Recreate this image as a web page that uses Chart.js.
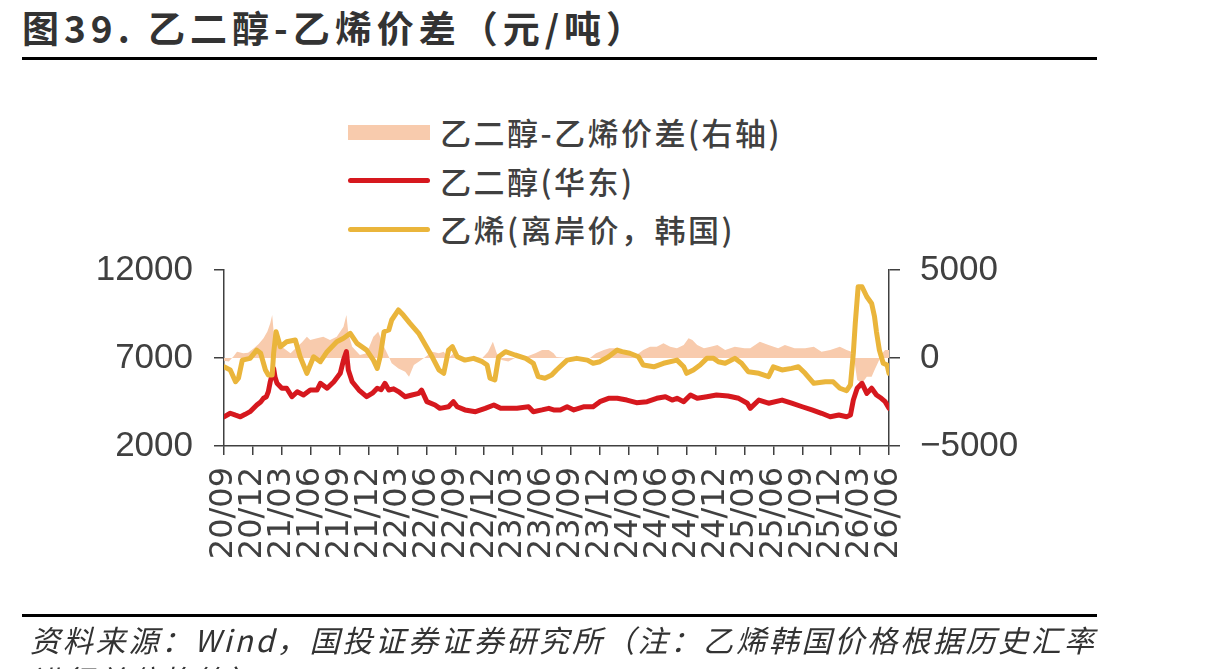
<!DOCTYPE html>
<html lang="zh-CN">
<head>
<meta charset="utf-8">
<title>图39. 乙二醇-乙烯价差（元/吨）</title>
<script src="https://cdn.jsdelivr.net/npm/chart.js@4.4.1/dist/chart.umd.min.js"></script>
<style>
  html, body { margin: 0; padding: 0; background: #fff; overflow: hidden; }
  body { width: 1213px; height: 669px; position: relative; font-family: "Noto Sans CJK SC", sans-serif; color: #404040; }
  #chart { position: absolute; left: 0; top: 0; }
  .title { position: absolute; left: 22px; top: 7px; font-size: 37px; line-height: 40px; font-weight: 700; color: #333; letter-spacing: 5px; white-space: nowrap; }
  .rule { position: absolute; left: 22px; width: 1075px; height: 3px; background: #000; }
  #legend { position: absolute; left: 348px; top: 108px; }
  .item { display: flex; align-items: center; height: 48.5px; }
  .swatch { width: 82px; margin-right: 10px; }
  .item span { font-size: 31px; line-height: 34px; letter-spacing: 2.5px; font-weight: 500; white-space: nowrap; }
  .note { position: absolute; left: 30px; top: 619px; font-size: 30px; line-height: 40px; font-style: italic; color: #333; letter-spacing: 2.8px; white-space: nowrap; }
</style>
</head>
<body>
<div class="title">图39. 乙二醇-乙烯价差（元/吨）</div>
<div class="rule" style="top:57px"></div>
<div id="legend"></div>
<canvas id="chart" width="1213" height="669"></canvas>
<div class="rule" style="top:614px"></div>
<div class="note">资料来源：Wind，国投证券证券研究所（注：乙烯韩国价格根据历史汇率<br>进行单位换算）</div>
<script>
// x positions are months counted from 2020/09
const TICK_LABELS = ["20/09", "20/12", "21/03", "21/06", "21/09", "21/12", "22/03", "22/06",
  "22/09", "22/12", "23/03", "23/06", "23/09", "23/12", "24/03", "24/06",
  "24/09", "24/12", "25/03", "25/06", "25/09", "25/12", "26/03", "26/06"]

const SERIES_NAMES = ["乙二醇-乙烯价差(右轴)", "乙二醇(华东)", "乙烯(离岸价，韩国)"]

const EG_MONTHS = [0, 0.65, 1.2, 1.7, 2.2, 2.7, 3.4, 3.8, 4.1, 4.4, 4.6, 4.8, 5.15, 5.3, 5.5, 6, 6.5, 7.05, 7.6, 8.25,
  8.95, 9.65, 10, 10.7, 11.4, 12.06, 12.4, 12.7, 12.9, 13.3, 14, 14.8, 15.4, 15.9, 16.3, 16.7, 17.1, 17.6, 18.1, 18.8,
  19.5, 20.2, 20.5, 21.05, 21.9, 22.4, 23.3, 23.8, 24.2, 25, 26.1, 27.1, 28, 28.7, 29.5, 30.4, 31.6, 32.1, 33, 33.7,
  34.2, 34.9, 35.6, 36.3, 37.3, 38.3, 39, 39.9, 40.8, 41.8, 42.8, 43.9, 44.9, 45.8, 46.5, 47, 47.7, 48.4, 49.1, 50.1,
  51.1, 52.3, 53.4, 54.3, 54.6, 55.5, 56.5, 57.9, 58.9, 60, 61, 62, 62.9, 63.8, 64.6, 65, 65.3, 65.7, 66.2, 66.7,
  67.2, 67.7, 68.2, 68.6, 69]
const EG_VALUES = [3660, 3860, 3750, 3660, 3800, 3950, 4330, 4500, 4710, 4800, 5090, 5650, 6410, 5900, 5560, 5280, 5280, 4800, 5080, 4900,
  5180, 5180, 5560, 5280, 5650, 6130, 6880, 7360, 6320, 5650, 5180, 4800, 5000, 5280, 5200, 5560, 5180, 5250, 5090, 4800,
  4900, 4990, 5180, 4520, 4330, 4140, 4230, 4520, 4230, 4050, 3950, 4140, 4330, 4140, 4140, 4140, 4230, 3950, 4050, 4140,
  4050, 4050, 4230, 4050, 4230, 4230, 4520, 4710, 4710, 4610, 4460, 4520, 4710, 4800, 4610, 4710, 4520, 4900, 4710, 4800,
  4900, 4840, 4710, 4430, 4140, 4610, 4430, 4610, 4430, 4230, 4050, 3860, 3660, 3760, 3660, 3760, 4610, 5280, 5560, 4990,
  5280, 4900, 4710, 4520, 4140]

const ETH_MONTHS = [0, 0.65, 1.2, 1.5, 1.9, 2.7, 3.4, 3.8, 4.3, 4.6, 5, 5.15, 5.4, 5.85, 6.5, 7.4, 7.9, 8.6, 9.3, 10,
  10.7, 11.7, 12.4, 13.1, 13.8, 14.8, 15.5, 15.9, 16.2, 16.6, 17.1, 17.4, 18.1, 18.6, 19.3, 20.2, 20.9, 21.6, 22.3, 22.8,
  23.3, 23.7, 24.2, 25, 25.9, 26.8, 27.3, 27.6, 28.1, 28.5, 29.2, 30.2, 31.3, 32.1, 32.6, 33.3, 34, 34.5, 35.6, 36.6,
  37.7, 38.3, 39, 39.9, 40.8, 41.3, 42.1, 43, 43.5, 44.6, 45.6, 47, 47.7, 48, 48.7, 49.4, 50.1, 50.8, 51.3, 52,
  53, 53.7, 54.4, 55.5, 56.5, 57, 57.9, 58.9, 59.6, 60.3, 61.2, 62.4, 63.2, 63.9, 64.6, 65, 65.3, 65.5, 65.8, 66.2,
  66.7, 67.2, 67.5, 67.7, 68, 68.4, 68.8, 69]
const ETH_VALUES = [6500, 6320, 5650, 5850, 6880, 6980, 7450, 7270, 6320, 6030, 6030, 7270, 8490, 7640, 7920, 8020, 7070, 6130, 7070, 6790,
  7360, 7920, 8120, 8400, 7830, 7450, 6880, 6410, 7070, 8490, 8590, 9160, 9730, 9440, 8970, 8400, 7740, 7070, 6320, 6130,
  7450, 7640, 7070, 6880, 6980, 6790, 6600, 5850, 5750, 7070, 7360, 7170, 6980, 6700, 5940, 5850, 6030, 6320, 6880, 6980,
  6880, 6700, 6790, 7070, 7450, 7360, 7270, 7070, 6600, 6500, 6700, 6880, 6500, 6130, 6320, 6600, 6980, 6980, 6790, 6700,
  6980, 6700, 6220, 6130, 5940, 6500, 6320, 6410, 6500, 6130, 5560, 5650, 5650, 5280, 5140, 5470, 7270, 8970, 11050, 11050,
  10480, 10100, 9340, 8490, 7450, 6700, 6600, 6130]

const SPREAD_MONTHS = [0, 0.5, 1, 1.35, 2, 2.5, 3.1, 3.6, 4.1, 4.5, 4.8, 5, 5.2, 5.7, 6.2, 6.9, 7.6, 8.1, 8.6, 8.95,
  9.65, 10.3, 11, 11.7, 12.4, 12.7, 12.9, 13.3, 14.1, 14.8, 15.5, 16, 16.6, 17.1, 17.4, 18.1, 18.8, 19.2, 19.7, 20.2,
  20.9, 21.6, 22.3, 22.8, 23.3, 24, 24.7, 25.8, 26.8, 27.4, 27.9, 28.3, 28.8, 29.5, 30.2, 31.3, 32.3, 33, 33.7, 34.2,
  34.5, 35.6, 36.6, 37.7, 38.6, 39.4, 40, 40.8, 41.8, 42.8, 43.5, 44.2, 44.9, 45.6, 46.3, 47, 47.7, 48.2, 48.6, 49.1,
  49.8, 50.5, 51.2, 52, 53, 54, 54.6, 55.6, 56.5, 57.5, 58.2, 59.2, 60.3, 61.2, 62, 62.9, 63.9, 64.6, 65.1, 65.4,
  65.7, 66.2, 66.7, 67.2, 67.5, 67.9, 68.3, 68.6, 69]
const SPREAD_VALUES = [-150, -200, 100, 360, 270, 300, 550, 800, 1120, 1500, 1970, 2440, 1210, 640, 550, 270, 640, 900, 1210, 1020,
  1120, 1210, 1020, 1210, 1780, 2440, 1400, 640, 170, 270, 1210, 1490, 640, 70, -300, -590, -780, -1060, -400, -210,
  50, 360, 270, 360, 0, 360, -20, 50, 0, 360, 930, 270, -110, -200, 0, 50, 270, 460, 460, 270,
  50, 0, -110, -110, 270, 460, 550, 550, 360, 170, 460, 640, 640, 840, 640, 550, 740, 1120, 1020, 740,
  550, 640, 740, 460, 640, 550, 550, 930, 740, 550, 740, 550, 550, 640, 360, 460, 640, 460, 360, -110,
  -1250, -1440, -1060, -1060, -680, -210, 270, 460, 460]

const RED = "#d6181e"
const GOLD = "#eab53b"
const PEACH = "#f8cbad"
const INK = "#404040"

function points(months, values) {
  return months.map(function (m, i) {
    return { x: m, y: values[i] }
  })
}

function axisLine(tickLength) {
  return { drawOnChartArea: false, drawTicks: true, tickLength: tickLength, color: INK, lineWidth: 1.5 }
}

function plain(value) {
  return String(value).replace("-", "\u2212")
}

const chart = new Chart(document.getElementById("chart"), {
  type: "line",
  data: {
    datasets: [
      {
        label: SERIES_NAMES[0],
        data: points(SPREAD_MONTHS, SPREAD_VALUES),
        yAxisID: "y1",
        fill: "origin",
        backgroundColor: PEACH,
        borderColor: "rgba(0,0,0,0)",
        borderWidth: 0,
        order: 3,
      },
      {
        label: SERIES_NAMES[1],
        data: points(EG_MONTHS, EG_VALUES),
        yAxisID: "y",
        borderColor: RED,
        backgroundColor: RED,
        borderWidth: 5,
        order: 2,
      },
      {
        label: SERIES_NAMES[2],
        data: points(ETH_MONTHS, ETH_VALUES),
        yAxisID: "y",
        borderColor: GOLD,
        backgroundColor: GOLD,
        borderWidth: 5,
        order: 1,
      },
    ],
  },
  options: {
    responsive: false,
    animation: false,
    events: [],
    layout: { padding: { top: 270, left: 0, right: 0, bottom: 0 } },
    elements: {
      point: { radius: 0 },
      line: { tension: 0, borderJoinStyle: "round", borderCapStyle: "round" },
    },
    plugins: { legend: { display: false }, tooltip: { enabled: false } },
    scales: {
      x: {
        type: "linear",
        min: 0,
        max: 69,
        afterFit: function (scale) { scale.height = 223 },
        grid: axisLine(9),
        border: { display: true, color: INK, width: 1.5 },
        ticks: {
          stepSize: 3,
          autoSkip: false,
          minRotation: 90,
          maxRotation: 90,
          padding: 12,
          color: INK,
          font: { family: "DejaVu Sans", size: 32 },
          callback: function (value) {
            return TICK_LABELS[value / 3] || ""
          },
        },
      },
      y: {
        position: "left",
        min: 2000,
        max: 12000,
        afterFit: function (scale) { scale.width = 224 },
        grid: axisLine(10),
        border: { display: true, color: INK, width: 1.5 },
        ticks: { stepSize: 5000, padding: 21, color: INK, font: { family: "Liberation Sans", size: 35 }, callback: plain },
      },
      y1: {
        position: "right",
        min: -5000,
        max: 5000,
        afterFit: function (scale) { scale.width = 1213 - 889 },
        grid: axisLine(11),
        border: { display: true, color: INK, width: 1.5 },
        ticks: { stepSize: 5000, padding: 20, color: INK, font: { family: "Liberation Sans", size: 35 }, callback: plain },
      },
    },
  },
})

// legend built from the chart's datasets, stacked like the original
const legendRoot = document.getElementById("legend")
chart.data.datasets.forEach(function (ds) {
  const row = document.createElement("div")
  row.className = "item"
  const swatch = document.createElement("div")
  swatch.className = "swatch"
  if (ds.fill) {
    swatch.style.height = "15px"
    swatch.style.background = ds.backgroundColor
  } else {
    swatch.style.height = "5px"
    swatch.style.borderRadius = "3px"
    swatch.style.background = ds.borderColor
  }
  const text = document.createElement("span")
  text.textContent = ds.label
  row.appendChild(swatch)
  row.appendChild(text)
  legendRoot.appendChild(row)
})
</script>
</body>
</html>
